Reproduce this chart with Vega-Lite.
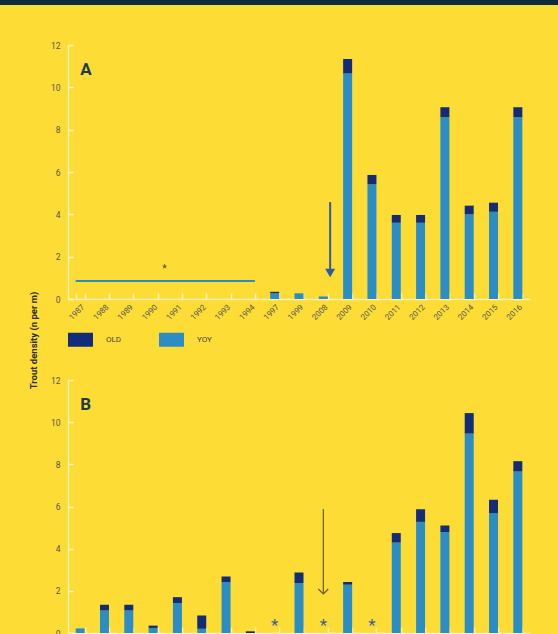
{
  "$schema": "https://vega.github.io/schema/vega-lite/v6.json",
  "background": "#fddc36",
  "padding": {"left": 0, "top": 0, "right": 0, "bottom": 0},
  "bounds": "flush",
  "spacing": 40,
  "config": {
    "font": "Roboto",
    "view": {"stroke": null},
    "axis": {
      "domainColor": "#fff3bd",
      "domainWidth": 1.5,
      "tickColor": "#fff3bd",
      "tickWidth": 1.5,
      "labelColor": "#555555",
      "labelFont": "Roboto",
      "grid": false
    },
    "legend": {
      "orient": "none",
      "legendX": 0,
      "legendY": 327,
      "direction": "horizontal",
      "symbolType": "M-1,-0.56H1V0.56H-1Z",
      "symbolSize": 625,
      "symbolStrokeWidth": 0,
      "symbolOpacity": 1,
      "labelFontSize": 8,
      "labelColor": "#444444",
      "labelOffset": 13,
      "columnPadding": 37,
      "padding": 0
    }
  },
  "datasets": {
    "a": [
      {"year": "1997", "stage": "YOY", "value": 0.27}, {"year": "1997", "stage": "OLD", "value": 0.07},
      {"year": "1999", "stage": "YOY", "value": 0.27}, {"year": "1999", "stage": "OLD", "value": 0},
      {"year": "2008", "stage": "YOY", "value": 0.12}, {"year": "2008", "stage": "OLD", "value": 0},
      {"year": "2009", "stage": "YOY", "value": 10.66}, {"year": "2009", "stage": "OLD", "value": 0.68},
      {"year": "2010", "stage": "YOY", "value": 5.42}, {"year": "2010", "stage": "OLD", "value": 0.44},
      {"year": "2011", "stage": "YOY", "value": 3.6}, {"year": "2011", "stage": "OLD", "value": 0.37},
      {"year": "2012", "stage": "YOY", "value": 3.6}, {"year": "2012", "stage": "OLD", "value": 0.37},
      {"year": "2013", "stage": "YOY", "value": 8.58}, {"year": "2013", "stage": "OLD", "value": 0.48},
      {"year": "2014", "stage": "YOY", "value": 4.0}, {"year": "2014", "stage": "OLD", "value": 0.41},
      {"year": "2015", "stage": "YOY", "value": 4.12}, {"year": "2015", "stage": "OLD", "value": 0.43},
      {"year": "2016", "stage": "YOY", "value": 8.58}, {"year": "2016", "stage": "OLD", "value": 0.48}
    ],
    "b": [
      {"year": "1987", "stage": "YOY", "value": 0.22}, {"year": "1987", "stage": "OLD", "value": 0},
      {"year": "1988", "stage": "YOY", "value": 1.07}, {"year": "1988", "stage": "OLD", "value": 0.27},
      {"year": "1989", "stage": "YOY", "value": 1.07}, {"year": "1989", "stage": "OLD", "value": 0.27},
      {"year": "1990", "stage": "YOY", "value": 0.24}, {"year": "1990", "stage": "OLD", "value": 0.11},
      {"year": "1991", "stage": "YOY", "value": 1.42}, {"year": "1991", "stage": "OLD", "value": 0.28},
      {"year": "1992", "stage": "YOY", "value": 0.2}, {"year": "1992", "stage": "OLD", "value": 0.63},
      {"year": "1993", "stage": "YOY", "value": 2.42}, {"year": "1993", "stage": "OLD", "value": 0.26},
      {"year": "1994", "stage": "YOY", "value": 0}, {"year": "1994", "stage": "OLD", "value": 0.08},
      {"year": "1999", "stage": "YOY", "value": 2.37}, {"year": "1999", "stage": "OLD", "value": 0.5},
      {"year": "2009", "stage": "YOY", "value": 2.29}, {"year": "2009", "stage": "OLD", "value": 0.13},
      {"year": "2011", "stage": "YOY", "value": 4.29}, {"year": "2011", "stage": "OLD", "value": 0.45},
      {"year": "2012", "stage": "YOY", "value": 5.27}, {"year": "2012", "stage": "OLD", "value": 0.6},
      {"year": "2013", "stage": "YOY", "value": 4.79}, {"year": "2013", "stage": "OLD", "value": 0.31},
      {"year": "2014", "stage": "YOY", "value": 9.46}, {"year": "2014", "stage": "OLD", "value": 0.97},
      {"year": "2015", "stage": "YOY", "value": 5.69}, {"year": "2015", "stage": "OLD", "value": 0.63},
      {"year": "2016", "stage": "YOY", "value": 7.66}, {"year": "2016", "stage": "OLD", "value": 0.49}
    ]
  },
  "vconcat": [
    {
      "width": 462,
      "height": 5,
      "data": {"values": [{"band": "top"}]},
      "mark": {"type": "rect", "color": "#0e2a3d", "clip": false},
      "encoding": {
        "x": {"datum": -68, "type": "quantitative", "scale": {"domain": [0, 462], "nice": false, "zero": false}, "axis": null},
        "x2": {"datum": 490}
      }
    },
    {
      "bounds": "flush",
      "spacing": 81,
      "vconcat": [
        {
          "width": 462,
          "height": 254,
          "layer": [
            {
              "data": {"name": "a"},
              "mark": {"type": "bar"},
              "encoding": {
                "x": {
                  "field": "year", "type": "ordinal",
                  "scale": {"domain": ["1987","1988","1989","1990","1991","1992","1993","1994","1997","1999","2008","2009","2010","2011","2012","2013","2014","2015","2016"], "paddingInner": 0.63, "paddingOuter": 0.315},
                  "axis": {"title": null, "labelAngle": -45, "labelFontSize": 8, "tickBand": "extent", "tickSize": -6, "labelPadding": 10}
                },
                "y": {
                  "field": "value", "type": "quantitative", "stack": "zero",
                  "scale": {"domain": [0, 12], "nice": false},
                  "axis": {"title": "Trout density (n per m)", "titleX": -35, "titleY": 295, "titleAngle": -90, "titleAlign": "center", "titleBaseline": "middle", "titleFontSize": 9.5, "titleFontWeight": "bold", "titleColor": "#2a2a2a", "values": [0, 2, 4, 6, 8, 10, 12], "tickSize": -5, "labelPadding": 13, "labelFontSize": 8.5}
                },
                "color": {"field": "stage", "type": "nominal", "scale": {"domain": ["OLD", "YOY"], "range": ["#132c7a", "#2a8dc5"]}, "legend": {"title": null}},
                "order": {"field": "stage", "sort": "descending"}
              }
            },
            {
              "data": {"values": [{"note": "line"}]},
              "mark": {"type": "rule", "color": "#2a8dc5", "strokeWidth": 2},
              "encoding": {
                "x": {"datum": "1987", "type": "ordinal", "bandPosition": 0},
                "x2": {"datum": "1994", "bandPosition": 1},
                "y": {"datum": 0.85, "type": "quantitative"}
              }
            },
            {
              "data": {"values": [{"note": "star"}]},
              "mark": {"type": "text", "text": "*", "fontSize": 10, "color": "#444444", "baseline": "alphabetic"},
              "encoding": {
                "x": {"datum": "1990", "type": "ordinal", "bandPosition": 1.75},
                "y": {"datum": 1.28, "type": "quantitative"}
              }
            },
            {
              "data": {"values": [{"note": "arrow"}]},
              "mark": {"type": "rule", "color": "#2f5c9e", "strokeWidth": 2},
              "encoding": {
                "x": {"datum": "2008", "type": "ordinal", "bandPosition": 1.26},
                "y": {"datum": 4.58, "type": "quantitative"},
                "y2": {"datum": 1.4}
              }
            },
            {
              "data": {"values": [{"note": "arrowhead"}]},
              "mark": {"type": "point", "shape": "triangle-down", "filled": true, "size": 100, "color": "#2f5c9e", "opacity": 1},
              "encoding": {
                "x": {"datum": "2008", "type": "ordinal", "bandPosition": 1.26},
                "y": {"datum": 1.23, "type": "quantitative"}
              }
            },
            {
              "data": {"values": [{"note": "A"}]},
              "mark": {"type": "text", "text": "A", "fontSize": 17, "fontWeight": "bold", "color": "#1e3a4c", "align": "left", "baseline": "alphabetic"},
              "encoding": {
                "x": {"datum": "1987", "type": "ordinal"},
                "y": {"datum": 10.58, "type": "quantitative"}
              }
            }
          ]
        },
        {
          "width": 462,
          "height": 253,
          "layer": [
            {
              "data": {"name": "b"},
              "mark": {"type": "bar"},
              "encoding": {
                "x": {
                  "field": "year", "type": "ordinal",
                  "scale": {"domain": ["1987","1988","1989","1990","1991","1992","1993","1994","1997","1999","2008","2009","2010","2011","2012","2013","2014","2015","2016"], "paddingInner": 0.63, "paddingOuter": 0.315},
                  "axis": {"title": null, "labels": false, "tickBand": "extent", "tickSize": -6}
                },
                "y": {
                  "field": "value", "type": "quantitative", "stack": "zero",
                  "scale": {"domain": [0, 12], "nice": false},
                  "axis": {"title": null, "values": [0, 2, 4, 6, 8, 10, 12], "tickSize": -5, "labelPadding": 13, "labelFontSize": 8.5}
                },
                "color": {"field": "stage", "type": "nominal", "scale": {"domain": ["OLD", "YOY"], "range": ["#132c7a", "#2a8dc5"]}, "legend": {"title": null}},
                "order": {"field": "stage", "sort": "descending"}
              }
            },
            {
              "data": {"values": [{"year": "1997"}, {"year": "2008"}, {"year": "2010"}]},
              "mark": {"type": "text", "text": "*", "fontSize": 17, "color": "#3f5f98", "baseline": "alphabetic"},
              "encoding": {
                "x": {"field": "year", "type": "ordinal"},
                "y": {"datum": 0.1, "type": "quantitative"}
              }
            },
            {
              "data": {"values": [{"note": "arrow"}]},
              "mark": {"type": "rule", "color": "#6b5c2c", "strokeWidth": 1.2},
              "encoding": {
                "x": {"datum": "2008", "type": "ordinal"},
                "y": {"datum": 5.88, "type": "quantitative"},
                "y2": {"datum": 1.85}
              }
            },
            {
              "data": {"values": [{"note": "arrowhead"}]},
              "mark": {"type": "point", "shape": "M-1,-0.5L0,0.5L1,-0.5", "filled": false, "size": 100, "color": "#6b5c2c", "strokeWidth": 1.2, "opacity": 1},
              "encoding": {
                "x": {"datum": "2008", "type": "ordinal"},
                "y": {"datum": 1.97, "type": "quantitative"}
              }
            },
            {
              "data": {"values": [{"note": "B"}]},
              "mark": {"type": "text", "text": "B", "fontSize": 17, "fontWeight": "bold", "color": "#1e3a4c", "align": "left", "baseline": "alphabetic"},
              "encoding": {
                "x": {"datum": "1987", "type": "ordinal"},
                "y": {"datum": 10.58, "type": "quantitative"}
              }
            }
          ]
        }
      ]
    }
  ]
}
